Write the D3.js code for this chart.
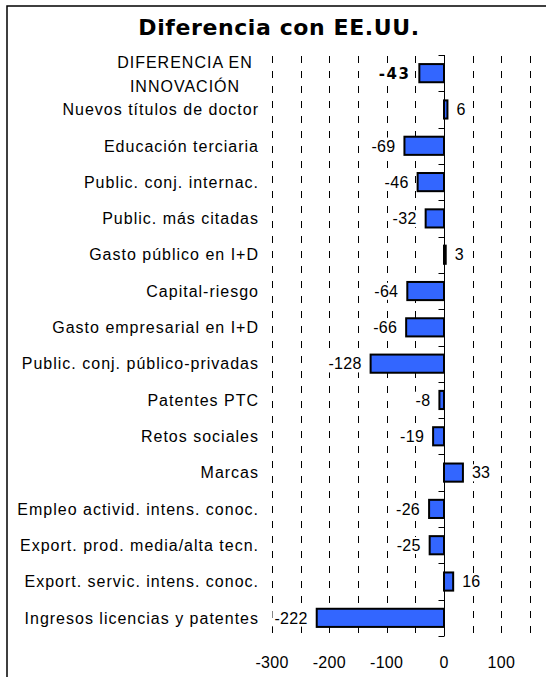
<!DOCTYPE html>
<html>
<head>
<meta charset="utf-8">
<script src="https://cdn.jsdelivr.net/npm/d3@7"></script>
<style>
  body { margin: 0; background: #fff; }
  svg { display: block; }
</style>
</head>
<body>
<script>
/////////////////////////////// вихідні дані
var categories = [
  "DIFERENCIA EN|INNOVACIÓN",
  "Nuevos títulos de doctor",
  "Educación terciaria",
  "Public. conj. internac.",
  "Public. más citadas",
  "Gasto público en I+D",
  "Capital-riesgo",
  "Gasto empresarial en I+D",
  "Public. conj. público-privadas",
  "Patentes PTC",
  "Retos sociales",
  "Marcas",
  "Empleo activid. intens. conoc.",
  "Export. prod. media/alta tecn.",
  "Export. servic. intens. conoc.",
  "Ingresos licencias y patentes",
];
var values = [-43, 6, -69, -46, -32, 3, -64, -66, -128, -8, -19, 33, -26, -25, 16, -222];
var gridValues = [-300, -250, -200, -150, -100, -50, 50, 100, 150];
var tickLabels = [-300, -200, -100, 0, 100];
var title = "Diferencia con EE.UU.";

var data = categories.map(function (c, i) {
  return { name: c, value: values[i], total: i === 0 };
});

/////////////////////////////// розміри
var width = 546,
  height = 677;
var plot = { left: 272, right: 530, top: 55, bottom: 636 };

var svg = d3
  .select("body")
  .append("svg")
  .attr("width", width)
  .attr("height", height);

// рамка
svg
  .append("rect")
  .attr("x", 7)
  .attr("y", 6)
  .attr("width", 600)
  .attr("height", 720)
  .attr("fill", "none")
  .attr("stroke", "#000")
  .attr("stroke-width", 1.5);

// заголовок
svg
  .append("text")
  .attr("x", 279)
  .attr("y", 35)
  .attr("text-anchor", "middle")
  .style("font-family", "'DejaVu Sans', Verdana, sans-serif")
  .style("font-weight", "bold")
  .style("font-size", "22px")
  .style("letter-spacing", "0.6px")
  .text(title);

/////////////////////////////// шкали
var x = d3.scaleLinear().domain([-300, 150]).range([plot.left, plot.right]);
var y = d3
  .scaleBand()
  .domain(categories)
  .range([plot.top, plot.bottom])
  .paddingInner(0.5)
  .paddingOuter(0.25);
var step = y.step();

// пунктирна сітка
svg
  .append("g")
  .attr("class", "grid")
  .selectAll("line")
  .data(gridValues)
  .enter()
  .append("line")
  .attr("x1", (d) => Math.round(x(d)) + 0.5)
  .attr("x2", (d) => Math.round(x(d)) + 0.5)
  .attr("y1", plot.top + 1)
  .attr("y2", plot.bottom)
  .attr("stroke", "#000")
  .attr("stroke-width", 1)
  .attr("stroke-dasharray", "7,8");

// підписи осі x
svg
  .append("g")
  .attr("class", "axis-x")
  .selectAll("text")
  .data(tickLabels)
  .enter()
  .append("text")
  .attr("x", (d) => x(d))
  .attr("y", 668)
  .attr("text-anchor", "middle")
  .style("font-family", "'Liberation Sans', Arial, sans-serif")
  .style("font-size", "16px")
  .style("letter-spacing", "0.3px")
  .text((d) => d);

/////////////////////////////// стовпчики
svg
  .append("g")
  .selectAll("rect")
  .data(data)
  .enter()
  .append("rect")
  .attr("x", (d) => x(Math.min(0, d.value)))
  .attr("y", (d) => y(d.name))
  .attr("width", (d) => Math.abs(x(d.value) - x(0)))
  .attr("height", y.bandwidth())
  .attr("fill", "#3366ff")
  .attr("stroke", "#000")
  .attr("stroke-width", 2);

// вісь через нуль з рисками між категоріями
var axisX = Math.round(x(0)) + 0.5;
var g0 = svg.append("g").attr("class", "axis-y");
g0.append("line")
  .attr("x1", axisX)
  .attr("x2", axisX)
  .attr("y1", plot.top)
  .attr("y2", plot.bottom)
  .attr("stroke", "#000");
g0.selectAll(".tick")
  .data(d3.range(categories.length + 1))
  .enter()
  .append("line")
  .attr("class", "tick")
  .attr("x1", axisX - 6)
  .attr("x2", axisX)
  .attr("y1", (i) => Math.round(plot.top + i * step) + 0.5)
  .attr("y2", (i) => Math.round(plot.top + i * step) + 0.5)
  .attr("stroke", "#000");

// підписи значень (з білим фоном, що ховає сітку)
var valG = svg
  .append("g")
  .selectAll("g")
  .data(data)
  .enter()
  .append("g");

var bg = valG.append("rect").attr("fill", "#fff");

var valText = valG
  .append("text")
  .attr("x", (d) => (d.value < 0 ? x(d.value) - 9 : x(d.value) + 9))
  .attr("y", (d) => y(d.name) + y.bandwidth() / 2)
  .attr("dy", "0.36em")
  .attr("text-anchor", (d) => (d.value < 0 ? "end" : "start"))
  .style("font-family", (d) =>
    d.total ? "'DejaVu Sans', Verdana, sans-serif" : "'Liberation Sans', Arial, sans-serif"
  )
  .style("font-weight", (d) => (d.total ? "bold" : "normal"))
  .style("font-size", (d) => (d.total ? "15px" : "16px"))
  .style("letter-spacing", (d) => (d.total ? "1.5px" : "0.3px"))
  .text((d) => d.value);

valText.each(function () {
  var b = this.getBBox();
  d3.select(this.parentNode)
    .select("rect")
    .attr("x", b.x - 2)
    .attr("y", b.y)
    .attr("width", b.width + 4)
    .attr("height", b.height);
});

// підписи категорій
var labels = svg
  .append("g")
  .selectAll("text")
  .data(data)
  .enter()
  .append("text")
  .attr("y", (d) => y(d.name) + y.bandwidth() / 2)
  .attr("text-anchor", (d) => (d.total ? "middle" : "end"))
  .attr("x", (d) => (d.total ? 185 : 259))
  .style("font-family", "'Liberation Sans', Arial, sans-serif")
  .style("font-size", "16px")
  .style("letter-spacing", "1px");

labels.each(function (d) {
  var lines = d.name.split("|");
  var t = d3.select(this);
  lines.forEach(function (line, i) {
    t.append("tspan")
      .attr("x", d.total ? 185 : 259)
      .attr("dy", i === 0 ? (lines.length > 1 ? "-0.35em" : "0.36em") : "1.55em")
      .text(line);
  });
});
</script>
</body>
</html>
